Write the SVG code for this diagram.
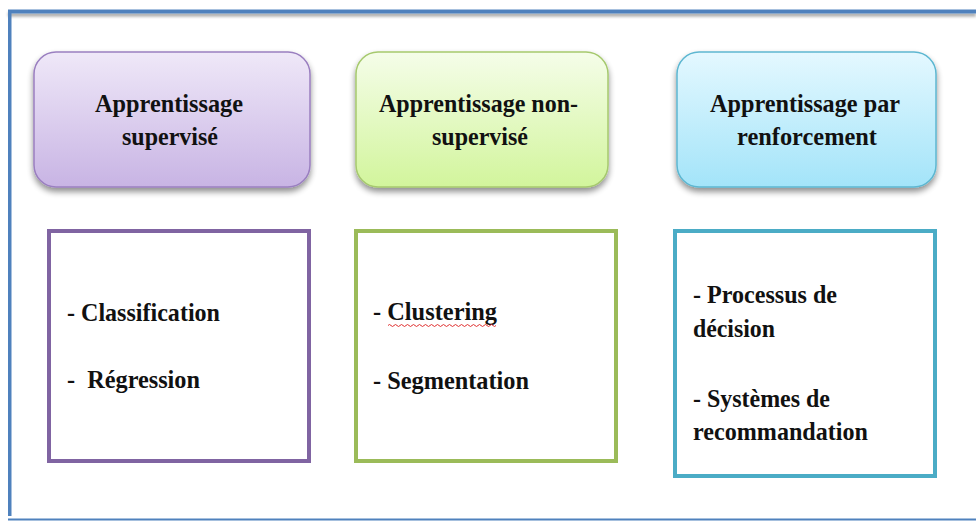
<svg xmlns="http://www.w3.org/2000/svg" width="976" height="522" viewBox="0 0 976 522">
  <defs>
    <linearGradient id="gPurple" x1="0" y1="0" x2="0" y2="1">
      <stop offset="0" stop-color="#efe8f8"/>
      <stop offset="1" stop-color="#c8b4e4"/>
    </linearGradient>
    <linearGradient id="gGreen" x1="0" y1="0" x2="0" y2="1">
      <stop offset="0" stop-color="#f5fde9"/>
      <stop offset="1" stop-color="#d2f59c"/>
    </linearGradient>
    <linearGradient id="gBlue" x1="0" y1="0" x2="0" y2="1">
      <stop offset="0" stop-color="#e4f8ff"/>
      <stop offset="1" stop-color="#a3e4f9"/>
    </linearGradient>
    <filter id="shadow" x="-10%" y="-10%" width="120%" height="130%">
      <feGaussianBlur in="SourceAlpha" stdDeviation="3"/>
      <feOffset dx="0" dy="4" result="b"/>
      <feComponentTransfer><feFuncA type="linear" slope="0.45"/></feComponentTransfer>
      <feMerge><feMergeNode/><feMergeNode in="SourceGraphic"/></feMerge>
    </filter>
    <filter id="lineShadow" filterUnits="userSpaceOnUse" x="0" y="0" width="976" height="30">
      <feGaussianBlur in="SourceAlpha" stdDeviation="1.5"/>
      <feOffset dx="0" dy="3"/>
      <feComponentTransfer><feFuncA type="linear" slope="0.35"/></feComponentTransfer>
      <feMerge><feMergeNode/><feMergeNode in="SourceGraphic"/></feMerge>
    </filter>
  </defs>
  <style>
    .t { font-family: "Liberation Serif", "Times New Roman", serif; font-weight: bold; font-size: 25px; fill: #111; }
    .head { stroke-width: 1.5; filter: url(#shadow); }
    .list { fill: #fff; stroke-width: 4; }
  </style>

  <rect width="976" height="522" fill="#fff"/>

  <!-- frame -->
  <g id="frame" fill="#4f81bd">
    <rect x="8" y="9.5" width="968" height="4" filter="url(#lineShadow)"/>
    <rect x="8" y="10" width="3.5" height="506"/>
    <rect x="8" y="518.5" width="968" height="2"/>
  </g>

  <!-- category headers -->
  <g id="sup">
    <rect class="head" x="34" y="52" width="276" height="135" rx="22" fill="url(#gPurple)" stroke="#9a7fc0"/>
    <text class="t" x="95" y="112" textLength="148" lengthAdjust="spacingAndGlyphs">Apprentissage</text>
    <text class="t" x="122" y="145" textLength="96" lengthAdjust="spacingAndGlyphs">supervisé</text>
  </g>
  <g id="nonsup">
    <rect class="head" x="356" y="52" width="252" height="135" rx="22" fill="url(#gGreen)" stroke="#a6c96e"/>
    <text class="t" x="379" y="112" textLength="199" lengthAdjust="spacingAndGlyphs">Apprentissage non-</text>
    <text class="t" x="432" y="145" textLength="96" lengthAdjust="spacingAndGlyphs">supervisé</text>
  </g>
  <g id="renf">
    <rect class="head" x="677" y="52" width="259" height="135" rx="22" fill="url(#gBlue)" stroke="#5db7d1"/>
    <text class="t" x="710" y="112" textLength="190" lengthAdjust="spacingAndGlyphs">Apprentissage par</text>
    <text class="t" x="737" y="145" textLength="140" lengthAdjust="spacingAndGlyphs">renforcement</text>
  </g>

  <!-- example lists -->
  <g id="supList">
    <rect class="list" x="49" y="231" width="260" height="230" stroke="#8064a2"/>
    <text class="t" x="67" y="321" textLength="153" lengthAdjust="spacingAndGlyphs">- Classification</text>
    <text class="t" x="67" y="388" textLength="133" lengthAdjust="spacingAndGlyphs" xml:space="preserve">-  Régression</text>
  </g>
  <g id="nonsupList">
    <rect class="list" x="356" y="231" width="260" height="230" stroke="#9bbb59"/>
    <text class="t" x="373" y="320" textLength="124" lengthAdjust="spacingAndGlyphs">- Clustering</text>
    <path d="M388 325.5 q1.5 -2 3 0 t3 0 t3 0 t3 0 t3 0 t3 0 t3 0 t3 0 t3 0 t3 0 t3 0 t3 0 t3 0 t3 0 t3 0 t3 0 t3 0 t3 0 t3 0 t3 0 t3 0 t3 0 t3 0 t3 0 t3 0 t3 0 t3 0 t3 0 t3 0 t3 0 t3 0 t3 0 t3 0 t3 0 t3 0 t3 0" fill="none" stroke="#e03030" stroke-width="1"/>
    <text class="t" x="373" y="389" textLength="156" lengthAdjust="spacingAndGlyphs">- Segmentation</text>
  </g>
  <g id="renfList">
    <rect class="list" x="675" y="231" width="260" height="245" stroke="#4bacc6"/>
    <text class="t" x="693" y="303" textLength="144" lengthAdjust="spacingAndGlyphs">- Processus de</text>
    <text class="t" x="693" y="337" textLength="82" lengthAdjust="spacingAndGlyphs">décision</text>
    <text class="t" x="693" y="407" textLength="137" lengthAdjust="spacingAndGlyphs">- Systèmes de</text>
    <text class="t" x="693" y="440" textLength="175" lengthAdjust="spacingAndGlyphs">recommandation</text>
  </g>

  <!-- no connectors in this figure -->
  <g id="connectors"/>
</svg>
